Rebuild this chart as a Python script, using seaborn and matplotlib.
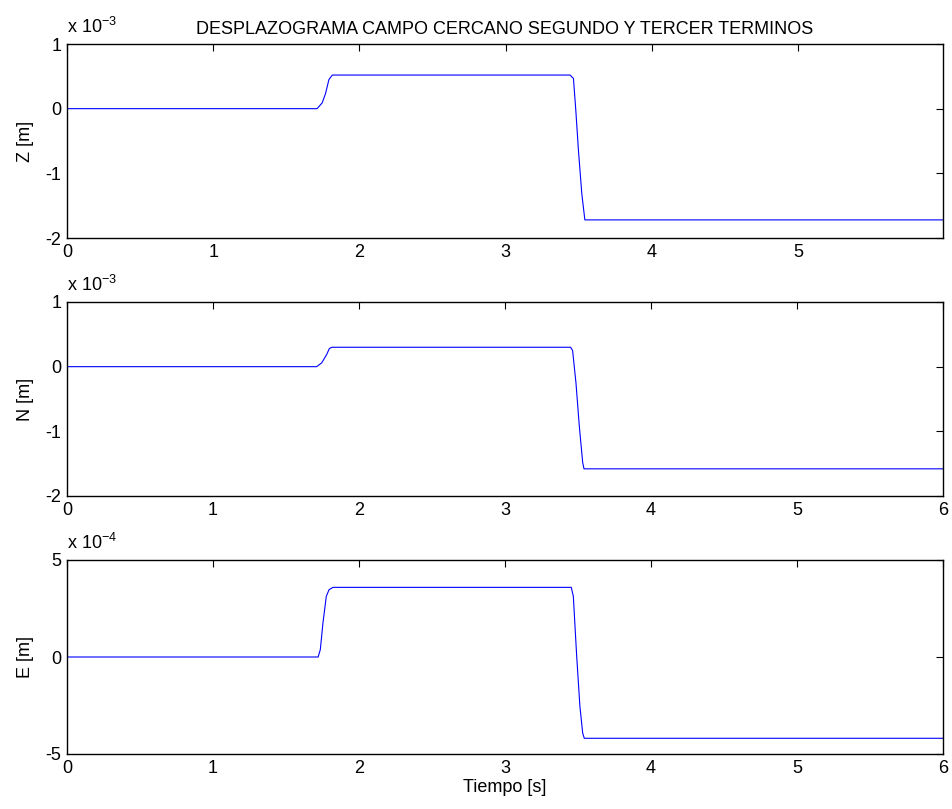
import matplotlib
matplotlib.use("Agg")
import matplotlib.pyplot as plt
import seaborn as sns
from matplotlib.ticker import FixedLocator, FuncFormatter

# Datos (tiempo en s, desplazamiento en m)
t_z = [0.0, 1.71, 1.745, 1.768, 1.791, 1.814, 3.44, 3.463, 3.479, 3.497, 3.52, 3.541, 6.0]
z_m = [0.0, 0.0, 0.09e-3, 0.235e-3, 0.45e-3, 0.52e-3, 0.52e-3, 0.468e-3, -0.02e-3,
       -0.64e-3, -1.31e-3, -1.72e-3, -1.72e-3]

t_n = [0.0, 1.71, 1.745, 1.779, 1.797, 1.814, 3.449, 3.463, 3.486, 3.509, 3.532, 3.541, 6.0]
n_m = [0.0, 0.0, 0.06e-3, 0.19e-3, 0.28e-3, 0.30e-3, 0.30e-3, 0.25e-3, -0.25e-3,
       -0.92e-3, -1.48e-3, -1.58e-3, -1.58e-3]

t_e = [0.0, 1.72, 1.735, 1.753, 1.776, 1.795, 1.822, 3.454, 3.468, 3.491, 3.513, 3.532, 3.543, 6.0]
e_m = [0.0, 0.0, 0.38e-4, 1.75e-4, 3.13e-4, 3.47e-4, 3.59e-4, 3.59e-4, 3.13e-4, 0.04e-4,
       -2.54e-4, -3.92e-4, -4.19e-4, -4.19e-4]

paneles = [
    ("Z [m]", t_z, z_m, 1e-3, "-3", [1e-3, 0, -1e-3, -2e-3], (-2e-3, 1e-3), 5.99, [0, 1, 2, 3, 4, 5]),
    ("N [m]", t_n, n_m, 1e-3, "-3", [1e-3, 0, -1e-3, -2e-3], (-2e-3, 1e-3), 6.0, [0, 1, 2, 3, 4, 5, 6]),
    ("E [m]", t_e, e_m, 1e-4, "-4", [5e-4, 0, -5e-4], (-5e-4, 5e-4), 6.0, [0, 1, 2, 3, 4, 5, 6]),
]

titulo = "DESPLAZOGRAMA CAMPO CERCANO SEGUNDO Y TERCER TERMINOS"

sns.set_theme(style="white")
plt.rcParams["font.family"] = ["Liberation Sans", "DejaVu Sans"]
plt.rcParams["mathtext.default"] = "regular"
plt.rcParams["text.color"] = "black"
plt.rcParams["axes.labelcolor"] = "black"

fs = 13
fig = plt.figure(figsize=(9.53, 8.09), dpi=100)
W, H = 953, 809
izq, der = 67, 943
tops = [44, 302, 560]
alto = 194

for i, (etiq, t, v, escala, exp, yt, ylim, xmax, xt) in enumerate(paneles):
    ax = fig.add_axes([izq / W, 1 - (tops[i] + alto) / H, (der - izq) / W, alto / H])
    sns.lineplot(x=t, y=v, ax=ax, color="#0000ff", linewidth=0.8, estimator=None)
    ax.set_xlim(0, xmax)
    ax.set_ylim(*ylim)
    ax.xaxis.set_major_locator(FixedLocator(xt))
    ax.yaxis.set_major_locator(FixedLocator(yt))
    ax.xaxis.set_major_formatter(FuncFormatter(lambda x, p: "%g" % x))
    ax.yaxis.set_major_formatter(FuncFormatter(lambda y, p, s=escala: "%g" % round(y / s)))
    ax.tick_params(direction="in", length=5, width=0.8, top=True, right=True,
                   labelsize=fs, colors="black", pad=4)
    for sp in ax.spines.values():
        sp.set_color("black")
        sp.set_linewidth(1.0)
    ax.set_ylabel(etiq, fontsize=fs, labelpad=8, color="black")
    ax.text(0, 1.055, "x 10$^{" + exp + "}$", transform=ax.transAxes, fontsize=fs,
            ha="left", va="baseline", color="black")
    if i == 0:
        ax.set_title(titulo, fontsize=fs, pad=7, color="black")
    if i == 2:
        ax.set_xlabel("Tiempo [s]", fontsize=fs, labelpad=2, color="black")
    else:
        ax.set_xlabel("")

fig.savefig("out.png", dpi=100)
